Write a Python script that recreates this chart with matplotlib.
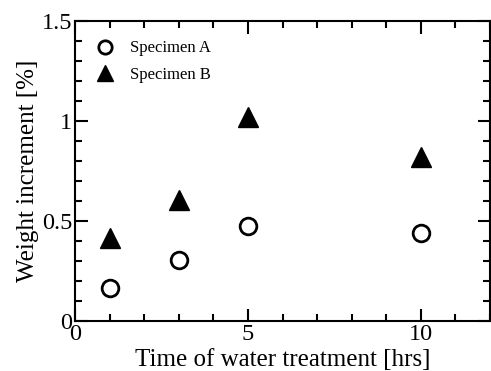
import matplotlib
matplotlib.use("Agg")
import matplotlib.pyplot as plt
from matplotlib.ticker import MultipleLocator, FuncFormatter

plt.rcParams['font.family'] = ['Liberation Serif', 'DejaVu Serif']

hours = [1, 3, 5, 10]
spec_a = [0.165, 0.305, 0.477, 0.44]
spec_b = [0.415, 0.605, 1.02, 0.82]

fig = plt.figure(figsize=(4.91, 3.71), dpi=100)
ax = fig.add_axes([75/491, 1 - 321/371, 415/491, 300/371])

ax.plot(hours, spec_a, 'o', ms=12, mfc='white', mec='black', mew=2,
        label='Specimen A', clip_on=False)
ax.plot(hours, spec_b, '^', ms=15, color='black', label='Specimen B',
        clip_on=False)

ax.set_xlim(0, 12)
ax.set_ylim(0, 1.5)
ax.xaxis.set_major_locator(MultipleLocator(5))
ax.xaxis.set_minor_locator(MultipleLocator(1))
ax.yaxis.set_major_locator(MultipleLocator(0.5))
ax.yaxis.set_minor_locator(MultipleLocator(0.1))
ax.yaxis.set_major_formatter(FuncFormatter(lambda v, p: f'{v:g}'))
ax.tick_params(which='both', direction='in', top=True, right=True,
               labelsize=17.5, width=1.5)
ax.tick_params(which='major', length=9, pad=2)
ax.tick_params(which='minor', length=5)
for s in ax.spines.values():
    s.set_linewidth(1.5)

ax.set_xlabel('Time of water treatment [hrs]', fontsize=18, labelpad=3)
ax.set_ylabel('Weight increment [%]', fontsize=18, labelpad=2)

# legend sits a little lower and with more gap than the default
ax.legend(loc='upper left', bbox_to_anchor=(0.005, 0.985), frameon=False,
          fontsize=12, handletextpad=0.8, labelspacing=0.65,
          handlelength=1.5, markerscale=0.8)

fig.savefig('out.png', dpi=100)
